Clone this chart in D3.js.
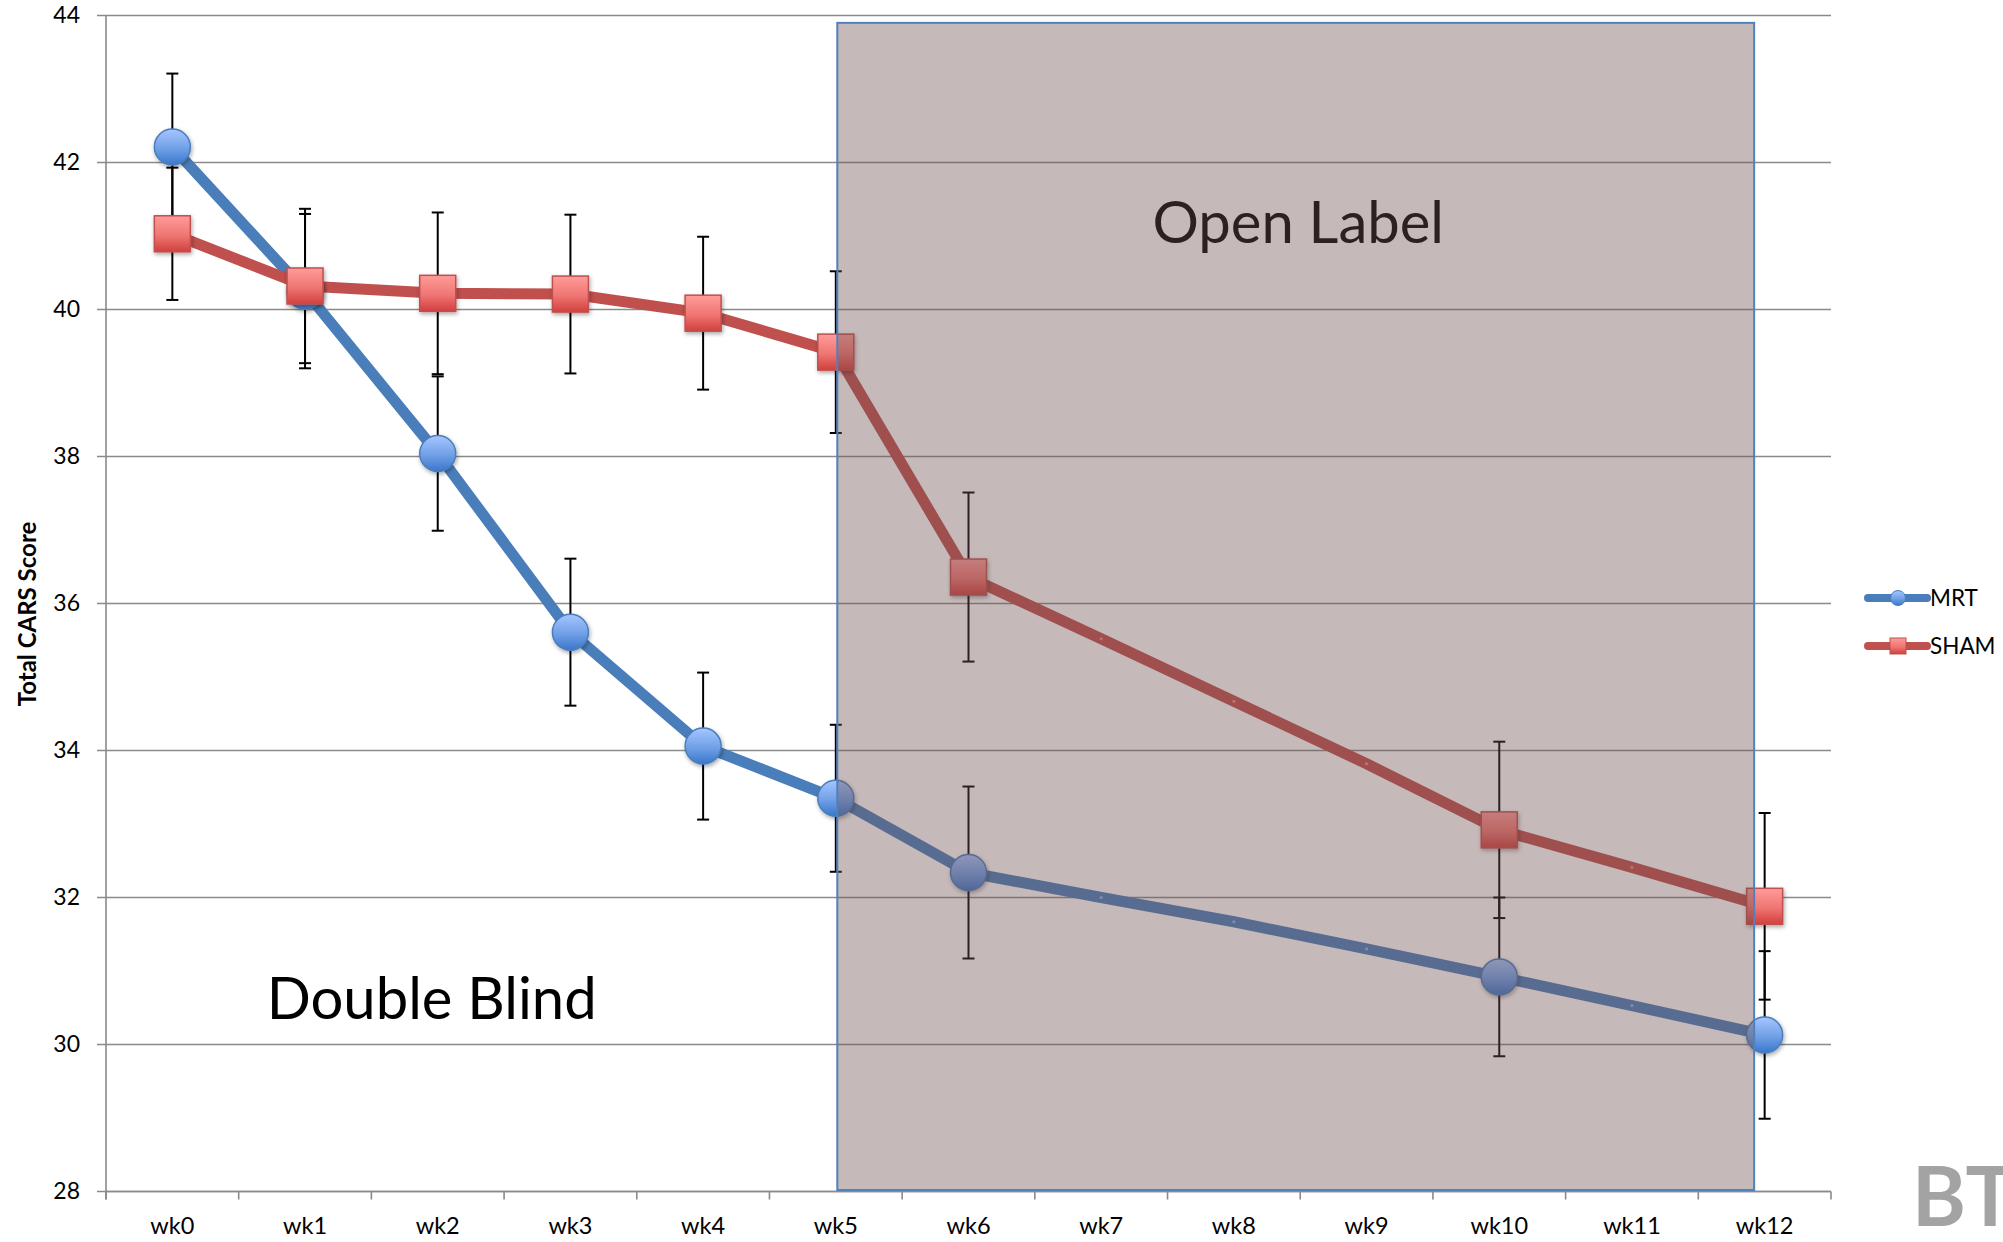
<!DOCTYPE html>
<html>
<head>
<meta charset="utf-8">
<script src="https://cdn.jsdelivr.net/npm/d3@7/dist/d3.min.js"></script>
<style>
  html, body { margin: 0; padding: 0; background: #fff; }
  svg { display: block; }
  text { font-family: Lato, "Open Sans", sans-serif; }
</style>
</head>
<body>
<script>
// ---------- data ----------
const weeks = ["wk0","wk1","wk2","wk3","wk4","wk5","wk6","wk7","wk8","wk9","wk10","wk11","wk12"];
const mrtValues  = [42.21, 40.25, 38.04, 35.61, 34.06, 33.35, 32.34, 32.00, 31.67, 31.30, 30.92, 30.53, 30.13];
const mrtErrors  = [1.00, 1.05, 1.05, 1.00, 1.00, 1.00, 1.17, null, null, null, 1.08, null, 1.14];
const shamValues = [41.03, 40.32, 40.22, 40.21, 39.95, 39.42, 36.36, 35.52, 34.67, 33.82, 32.92, 32.41, 31.88];
const shamErrors = [0.90, 1.05, 1.10, 1.08, 1.04, 1.10, 1.15, null, null, null, 1.20, null, 1.27];
const yTicks = [28, 30, 32, 34, 36, 38, 40, 42, 44];
const seriesNames = ["MRT", "SHAM"];
const yTitle = "Total CARS Score";
const openLabelText = "Open Label";
const doubleBlindText = "Double Blind";
const openStart = "wk5", openEnd = "wk12";

(function () {
// ---------- layout ----------
const W = 2003, H = 1242;
const pLeft = 106, pRight = 1831, pTop = 15.5, pBottom = 1191.5;

const svg = d3.select("body").append("svg").attr("width", W).attr("height", H);
const defs = svg.append("defs");

const blueGrad = defs.append("linearGradient").attr("id","gBlue").attr("x1",0).attr("y1",0).attr("x2",0).attr("y2",1);
blueGrad.append("stop").attr("offset","0%").attr("stop-color","#a6c6ff");
blueGrad.append("stop").attr("offset","55%").attr("stop-color","#6f9fe6");
blueGrad.append("stop").attr("offset","100%").attr("stop-color","#3a76cc");
const redGrad = defs.append("linearGradient").attr("id","gRed").attr("x1",0).attr("y1",0).attr("x2",0).attr("y2",1);
redGrad.append("stop").attr("offset","0%").attr("stop-color","#ff9c9a");
redGrad.append("stop").attr("offset","55%").attr("stop-color","#ef7572");
redGrad.append("stop").attr("offset","100%").attr("stop-color","#d0403d");
const shadow = defs.append("filter").attr("id","shadow").attr("x","-30%").attr("y","-30%").attr("width","170%").attr("height","170%");
shadow.append("feDropShadow").attr("dx",1).attr("dy",2).attr("stdDeviation",2).attr("flood-color","#000").attr("flood-opacity",0.35);

const x = d3.scaleBand().domain(weeks).range([pLeft, pRight]).paddingInner(0).paddingOuter(0);
const bw = x.bandwidth();
const cx = w => x(w) + bw / 2;
const y = d3.scaleLinear().domain([28, 44]).range([pBottom, pTop]);

// gridlines
svg.append("g").selectAll("line").data(yTicks).join("line")
  .attr("x1", pLeft - 9).attr("x2", pRight)
  .attr("y1", d => y(d)).attr("y2", d => y(d))
  .attr("stroke", "#8a8a8a").attr("stroke-width", 1.6);

// y axis
const yAxis = d3.axisLeft(y).tickValues(yTicks).tickSize(0).tickPadding(26);
const yg = svg.append("g").attr("transform", `translate(${pLeft},0)`).call(yAxis);
yg.select(".domain").remove();
yg.selectAll("text").attr("font-size", 23).attr("fill", "#000").attr("font-family","Lato, sans-serif");
svg.append("line").attr("x1", pLeft).attr("x2", pLeft).attr("y1", pTop).attr("y2", pBottom + 8)
  .attr("stroke", "#8a8a8a").attr("stroke-width", 1.6);

// x axis
const xAxis = d3.axisBottom(x).tickSize(0).tickPadding(0);
const xg = svg.append("g").attr("transform", `translate(0,${pBottom})`).call(xAxis);
xg.select(".domain").remove();
xg.selectAll("text").attr("font-size", 23.5).attr("fill", "#000").attr("dy", null).attr("y", 42).attr("font-family","Lato, sans-serif");
svg.append("line").attr("x1", pLeft).attr("x2", pRight).attr("y1", pBottom).attr("y2", pBottom)
  .attr("stroke", "#8a8a8a").attr("stroke-width", 1.6);
svg.append("g").selectAll("line").data(d3.range(weeks.length + 1)).join("line")
  .attr("x1", i => pLeft + i * bw).attr("x2", i => pLeft + i * bw)
  .attr("y1", pBottom).attr("y2", pBottom + 8)
  .attr("stroke", "#8a8a8a").attr("stroke-width", 1.6);

// y title
svg.append("text").attr("transform", `translate(36,614) rotate(-90)`)
  .attr("text-anchor", "middle").attr("font-size", 24).attr("font-weight", "bold")
  .attr("fill", "#000").text(yTitle);

// series
const series = [
  { name: seriesNames[0], values: mrtValues, errors: mrtErrors, color: "#4a7ebb", marker: "circle" },
  { name: seriesNames[1], values: shamValues, errors: shamErrors, color: "#c0504d", marker: "square" }
];
const line = d3.line().x((d, i) => cx(weeks[i])).y(d => y(d));

series.forEach(s => {
  const g = svg.append("g");
  g.append("path").attr("d", line(s.values)).attr("fill", "none")
    .attr("stroke", s.color).attr("stroke-width", 11).attr("stroke-linejoin", "round");
  const pts = s.values.map((v, i) => ({ w: weeks[i], v, e: s.errors[i] }));
  g.selectAll("circle.tiny").data(pts.filter(p => p.e == null)).join("circle")
    .attr("cx", p => cx(p.w)).attr("cy", p => y(p.v)).attr("r", 1.6)
    .attr("fill", s.marker === "circle" ? "#8fb2ea" : "#f08a88");
  const eb = g.selectAll("g.eb").data(pts.filter(p => p.e != null)).join("g");
  eb.append("line").attr("x1", p => cx(p.w)).attr("x2", p => cx(p.w))
    .attr("y1", p => y(p.v + p.e)).attr("y2", p => y(p.v - p.e))
    .attr("stroke", "#000").attr("stroke-width", 2);
  [1, -1].forEach(sg => {
    eb.append("line").attr("x1", p => cx(p.w) - 6).attr("x2", p => cx(p.w) + 6)
      .attr("y1", p => y(p.v + sg * p.e)).attr("y2", p => y(p.v + sg * p.e))
      .attr("stroke", "#000").attr("stroke-width", 2);
  });
  s.pts = pts;
});

// markers on top
series.forEach(s => {
  const g = svg.append("g").attr("filter", "url(#shadow)");
  const mp = s.pts.filter(p => p.e != null);
  if (s.marker === "circle") {
    g.selectAll("circle").data(mp).join("circle")
      .attr("cx", p => cx(p.w)).attr("cy", p => y(p.v)).attr("r", 18)
      .attr("fill", "url(#gBlue)").attr("stroke", "#4a7ebb").attr("stroke-width", 1.5);
  } else {
    g.selectAll("rect").data(mp).join("rect")
      .attr("x", p => cx(p.w) - 18).attr("y", p => y(p.v) - 18).attr("width", 36).attr("height", 36)
      .attr("fill", "url(#gRed)").attr("stroke", "#c0504d").attr("stroke-width", 1.5);
  }
});

// open label text (underneath the overlay)
svg.append("text").attr("x", pLeft + 9 * bw - 2).attr("y", y(40.9))
  .attr("text-anchor", "middle").attr("font-size", 58).attr("fill", "#000").text(openLabelText);

// overlay rectangle
const rx1 = cx(openStart) + 1.5, rx2 = cx(openEnd) - 10.5;
svg.append("rect").attr("x", rx1).attr("y", y(43.9)).attr("width", rx2 - rx1).attr("height", y(28) - 1.5 - y(43.9))
  .attr("fill", "rgb(110,80,80)").attr("fill-opacity", 0.4)
  .attr("stroke", "#4f81bd").attr("stroke-width", 2);

// double blind text
svg.append("text").attr("x", cx("wk2") - 6).attr("y", y(30.35))
  .attr("text-anchor", "middle").attr("font-size", 58).attr("fill", "#000").text(doubleBlindText);

// legend
const legend = svg.append("g");
series.forEach((s, i) => {
  const ly = 598 + i * 48;
  legend.append("line").attr("x1", 1868).attr("x2", 1927).attr("y1", ly).attr("y2", ly)
    .attr("stroke", s.color).attr("stroke-width", 8).attr("stroke-linecap", "round");
  if (s.marker === "circle") {
    legend.append("circle").attr("cx", 1898).attr("cy", ly).attr("r", 7.5)
      .attr("fill", "url(#gBlue)").attr("stroke", "#4a7ebb").attr("stroke-width", 1);
  } else {
    legend.append("rect").attr("x", 1890).attr("y", ly - 8).attr("width", 16).attr("height", 16)
      .attr("fill", "url(#gRed)").attr("stroke", "#c0504d").attr("stroke-width", 1);
  }
  legend.append("text").attr("x", 1930).attr("y", ly + 8).attr("font-size", 22.5)
    .attr("fill", "#000").text(s.name);
});

// watermark
svg.append("text").attr("x", 1912).attr("y", 1226).attr("font-size", 82).attr("font-weight", "bold")
  .attr("font-family", "DejaVu Sans").attr("fill", "#a3a3a3").text("BT");
})();
</script>
</body>
</html>
